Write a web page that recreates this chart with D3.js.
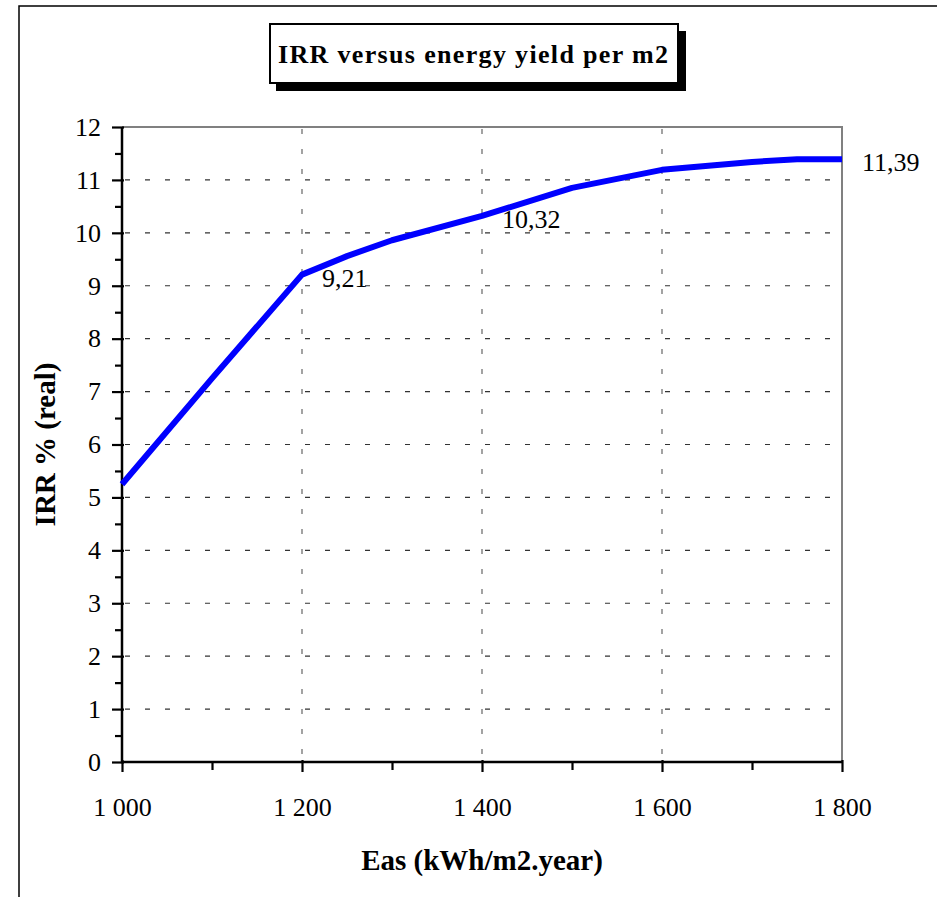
<!DOCTYPE html>
<html>
<head>
<meta charset="utf-8">
<script src="https://cdn.jsdelivr.net/npm/d3@7/dist/d3.min.js"></script>
<style>
  html, body { margin: 0; padding: 0; background: #fff; }
  svg { display: block; }
  svg text { font-family: 'Times New Roman', 'Liberation Serif', Times, serif; fill: #000; }
</style>
</head>
<body>
<svg id="chart" width="937" height="897"></svg>
<script>
// ---- data ----
const energyYield = [1000, 1100, 1200, 1250, 1300, 1400, 1500, 1600, 1700, 1750, 1800];
const irrValues   = [5.25, 7.25, 9.21, 9.56, 9.86, 10.32, 10.85, 11.19, 11.34, 11.39, 11.39];
const labelledYields = [1200, 1400, 1800];
const xTickValues = [1000, 1200, 1400, 1600, 1800];
const xMinorTicks = [1100, 1300, 1500, 1700];
const yTickValues = [0, 1, 2, 3, 4, 5, 6, 7, 8, 9, 10, 11, 12];
const yMinorTicks = [0.5, 1.5, 2.5, 3.5, 4.5, 5.5, 6.5, 7.5, 8.5, 9.5, 10.5, 11.5];
const titleText = "IRR versus energy yield per m2";
const xTitle = "Eas (kWh/m2.year)";
const yTitle = "IRR % (real)";

const fmtThousands = d => {
  const s = String(d);
  return s.length > 3 ? s.slice(0, s.length - 3) + "\u00a0" + s.slice(-3) : s;
};
const fmtComma = d => d.toFixed(2).replace(".", ",");

// ---- layout ----
const svg = d3.select("#chart");
const L = 122, R = 842, T = 127, B = 762;

const x = d3.scaleLinear().domain([1000, 1800]).range([L, R]);
const y = d3.scaleLinear().domain([0, 12]).range([B, T]);

// outer chart border
svg.append("rect").attr("x", 19).attr("y", 6).attr("width", 940).attr("height", 900)
  .attr("fill", "#fff").attr("stroke", "#000").attr("stroke-width", 1.5);

// plot area frame (top/right gray)
svg.append("path")
  .attr("d", `M${L},${T}H${R}V${B}`)
  .attr("fill", "none").attr("stroke", "#808080").attr("stroke-width", 2);

// grid
const grid = svg.append("g").attr("stroke-width", 1.2).attr("stroke-dasharray", "5,15");
grid.selectAll("line.h").data(yTickValues.filter(d => d > 0 && d < 12)).join("line")
  .attr("class", "h").attr("stroke", "#333")
  .attr("x1", L + 3).attr("x2", R).attr("y1", d => y(d)).attr("y2", d => y(d));
grid.selectAll("line.v").data(xTickValues.filter(d => d > 1000 && d < 1800)).join("line")
  .attr("class", "v").attr("stroke", "#666")
  .attr("y1", T + 2).attr("y2", B).attr("x1", d => x(d)).attr("x2", d => x(d));

// y axis
const yAxis = d3.axisLeft(y).tickValues(yTickValues).tickSize(10).tickPadding(11).tickFormat(d => d);
const gy = svg.append("g").attr("transform", `translate(${L},0)`).call(yAxis);
gy.attr("font-family", null);
gy.select(".domain").remove();
gy.selectAll(".tick line").attr("stroke", "#000").attr("stroke-width", 2.2).attr("x2", -10).attr("x1", 2);
gy.selectAll(".tick text").attr("font-size", 26);
const yMinor = d3.axisLeft(y).tickValues(yMinorTicks).tickSize(7).tickFormat("");
const gym = svg.append("g").attr("transform", `translate(${L},0)`).call(yMinor);
gym.select(".domain").remove();
gym.selectAll(".tick line").attr("stroke", "#000").attr("stroke-width", 2.2);

// x axis
const xAxis = d3.axisBottom(x).tickValues(xTickValues).tickSize(10).tickPadding(26).tickFormat(fmtThousands);
const gx = svg.append("g").attr("transform", `translate(0,${B})`).call(xAxis);
gx.attr("font-family", null);
gx.select(".domain").remove();
gx.selectAll(".tick line").attr("stroke", "#000").attr("stroke-width", 2.2).attr("y1", -2);
gx.selectAll(".tick text").attr("font-size", 26);
const xMinor = d3.axisBottom(x).tickValues(xMinorTicks).tickSize(8).tickFormat("");
const gxm = svg.append("g").attr("transform", `translate(0,${B})`).call(xMinor);
gxm.select(".domain").remove();
gxm.selectAll(".tick line").attr("stroke", "#000").attr("stroke-width", 2.2);

// axis lines
svg.append("path").attr("d", `M${L},${T}V${B}H${R}`)
  .attr("fill", "none").attr("stroke", "#000").attr("stroke-width", 2.5);

// data line
const line = d3.line().x((d, i) => x(energyYield[i])).y(d => y(d));
svg.append("path").datum(irrValues).attr("d", line)
  .attr("fill", "none").attr("stroke", "#0000ff").attr("stroke-width", 6)
  .attr("stroke-linejoin", "round");

// data labels
svg.selectAll("text.dl").data(labelledYields).join("text").attr("class", "dl")
  .attr("x", d => x(d) + 20)
  .attr("y", d => y(irrValues[energyYield.indexOf(d)]) + 12)
  .attr("font-size", 26)
  .text(d => fmtComma(irrValues[energyYield.indexOf(d)]));

// title box
svg.append("rect").attr("x", 276).attr("y", 31).attr("width", 410).attr("height", 60).attr("fill", "#000");
svg.append("rect").attr("x", 270).attr("y", 24).attr("width", 408).attr("height", 59)
  .attr("fill", "#fff").attr("stroke", "#000").attr("stroke-width", 2);
svg.append("text").attr("x", 473).attr("y", 63).attr("text-anchor", "middle")
  .attr("font-size", 26).attr("font-weight", "bold")
  .attr("textLength", 390).attr("lengthAdjust", "spacing")
  .text(titleText);

// axis titles
svg.append("text").attr("x", (L + R) / 2).attr("y", 870).attr("text-anchor", "middle")
  .attr("font-size", 29).attr("font-weight", "bold").text(xTitle);
svg.append("text").attr("transform", `translate(55,${(T + B) / 2}) rotate(-90)`)
  .attr("text-anchor", "middle").attr("font-size", 29).attr("font-weight", "bold").text(yTitle);
</script>
</body>
</html>
